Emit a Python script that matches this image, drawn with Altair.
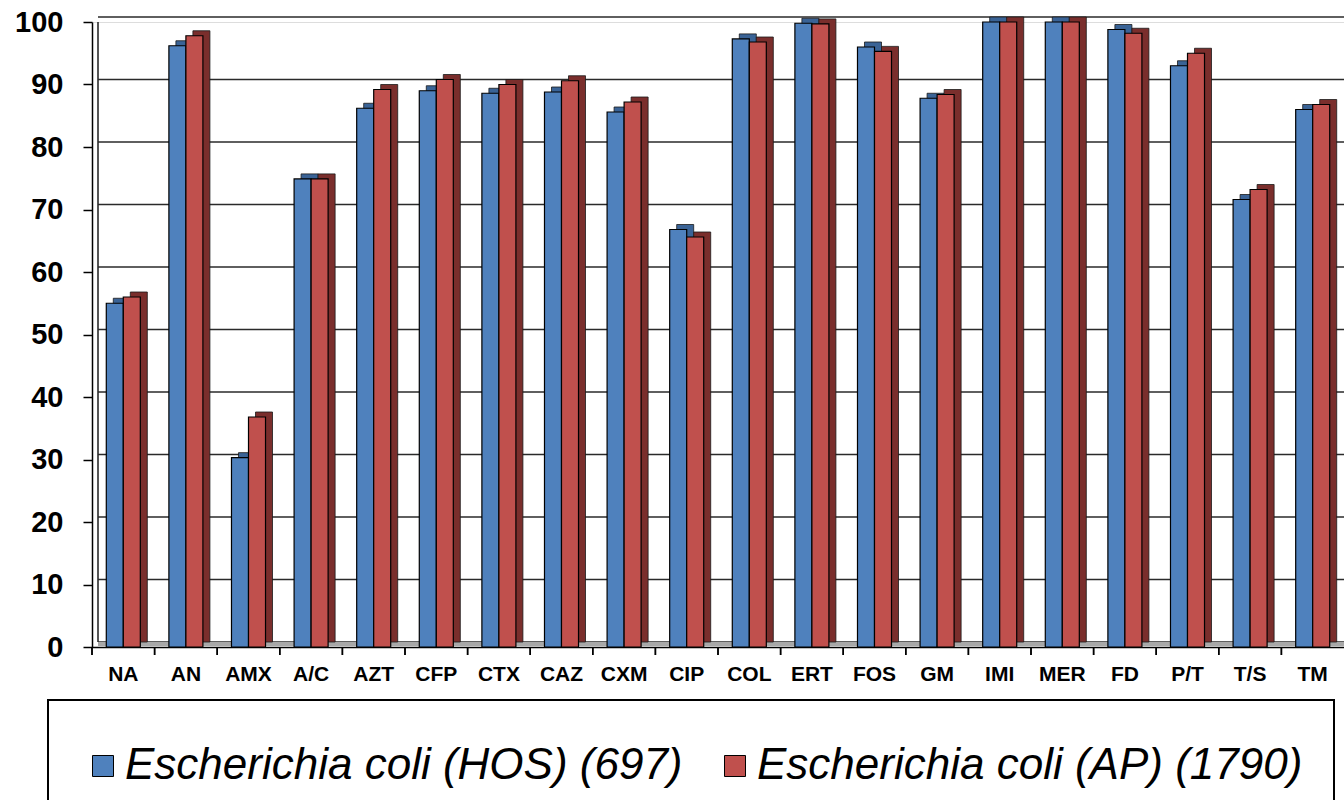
import altair as alt
import pandas as pd

categories = ["NA", "AN", "AMX", "A/C", "AZT", "CFP", "CTX", "CAZ", "CXM", "CIP",
              "COL", "ERT", "FOS", "GM", "IMI", "MER", "FD", "P/T", "T/S", "TM"]
hos_values = [55.0, 96.2, 30.3, 74.9, 86.2, 89.0, 88.6, 88.8, 85.6, 66.8,
              97.3, 99.8, 96.0, 87.8, 100.0, 100.0, 98.8, 93.0, 71.6, 86.0]
ap_values = [56.0, 97.8, 36.8, 74.9, 89.2, 90.8, 90.0, 90.6, 87.2, 65.6,
             96.8, 99.7, 95.3, 88.4, 100.0, 100.0, 98.2, 95.0, 73.2, 86.8]
series_names = ["Escherichia coli (HOS) (697)", "Escherichia coli (AP) (1790)"]
series_colors = ["#4F81BD", "#C0504D"]
series_dark = ["#3A6396", "#7A2E2C"]
y_ticks = [0, 10, 20, 30, 40, 50, 60, 70, 80, 90, 100]

W, H = 1252, 625
FONT = "Liberation Sans"

rows = []
for i, c in enumerate(categories):
    rows.append({"cat": c, "series": series_names[0], "value": hos_values[i], "dark": series_dark[0]})
    rows.append({"cat": c, "series": series_names[1], "value": ap_values[i], "dark": series_dark[1]})
df = pd.DataFrame(rows)

xscale = alt.Scale(paddingInner=0, paddingOuter=0)
xoff_front = alt.Scale(paddingInner=0, paddingOuter=0.84, align=0.5)
xoff_depth = alt.Scale(paddingInner=0, paddingOuter=0.84, align=0.745)
yscale = alt.Scale(domain=[0, 100], nice=False, zero=True)

xaxis = alt.Axis(labelAngle=0, labelFont=FONT, labelFontSize=21, labelFontWeight="bold",
                 labelColor="black", ticks=False, labelPadding=16, domainColor="black",
                 domainWidth=1.5, grid=False)
yaxis = alt.Axis(values=y_ticks, labelFont=FONT, labelFontSize=29, labelFontWeight="bold",
                 labelColor="black", tickColor="black", tickSize=9, tickWidth=1.5,
                 labelPadding=20, domainColor="black", domainWidth=1.5, grid=False)

base = alt.Chart(df)

# back wall grid lines (offset for a 3D look)
grid = alt.Chart(pd.DataFrame({"value": y_ticks})).mark_rule(
    color="#2a2a2a", strokeWidth=1.6, yOffset=-5
).encode(
    y=alt.Y("value:Q", scale=yscale, title=None, axis=yaxis),
    x=alt.value(6), x2=alt.value(W),
)

# floor strip
floor = alt.Chart(pd.DataFrame({"value": [0]})).mark_rule(
    color="#a8a8a8", strokeWidth=4, yOffset=-3
).encode(
    y=alt.Y("value:Q", scale=yscale, title=None, axis=yaxis),
    x=alt.value(6), x2=alt.value(W),
)

# left wall line
wall = alt.Chart(pd.DataFrame({"value": [0], "v2": [100]})).mark_rule(
    color="#2a2a2a", strokeWidth=1.6, xOffset=6, yOffset=-5
).encode(
    y=alt.Y("value:Q", scale=yscale, title=None, axis=yaxis),
    y2="v2:Q",
    x=alt.value(0),
)

# depth (top/side faces)
depth = base.mark_bar(yOffset=-5, stroke="#1a1a1a", strokeWidth=0.8).encode(
    x=alt.X("cat:N", sort=categories, scale=xscale, title=None, axis=xaxis),
    xOffset=alt.XOffset("series:N", sort=series_names, scale=xoff_depth),
    y=alt.Y("value:Q", scale=yscale, title=None, axis=yaxis),
    fill=alt.Fill("dark:N", scale=None, legend=None),
)

# front faces
front = base.mark_bar(stroke="black", strokeWidth=1.2).encode(
    x=alt.X("cat:N", sort=categories, scale=xscale, title=None, axis=xaxis),
    xOffset=alt.XOffset("series:N", sort=series_names, scale=xoff_front),
    y=alt.Y("value:Q", scale=yscale, title=None, axis=yaxis),
    color=alt.Color("series:N", sort=series_names,
                    scale=alt.Scale(domain=series_names, range=series_colors),
                    legend=alt.Legend(orient="none", legendX=-11, legendY=722, direction="horizontal",
                                      title=None, labelFont=FONT, labelFontSize=44,
                                      labelFontStyle="italic", labelColor="black", labelLimit=0,
                                      symbolType="square", symbolSize=441, symbolStrokeColor="black",
                                      symbolStrokeWidth=1, labelOffset=0, columnPadding=30,
                                      padding=0, symbolOffset=0)),
)

# category boundary ticks
cat_ticks = base.mark_rule(color="black", strokeWidth=1.5).encode(
    x=alt.X("cat:N", sort=categories, scale=xscale, bandPosition=0, title=None, axis=xaxis),
    y=alt.value(H), y2=alt.value(H + 8),
)

# legend frame
legend_box = alt.Chart(pd.DataFrame({"k": [0]})).mark_rect(
    filled=False, stroke="black", strokeWidth=2
).encode(
    x=alt.value(-44), x2=alt.value(1242), y=alt.value(678), y2=alt.value(830),
)

chart = alt.layer(grid, floor, wall, depth, front, cat_ticks, legend_box).resolve_scale(
    xOffset="independent"
).properties(
    width=W, height=H,
    autosize=alt.AutoSizeParams(type="none"),
    padding={"left": 92, "top": 22, "right": 0, "bottom": 153},
).configure_view(stroke=None).configure(background="white")

chart.save("out.html", embed_options={"renderer": "svg", "actions": False})
